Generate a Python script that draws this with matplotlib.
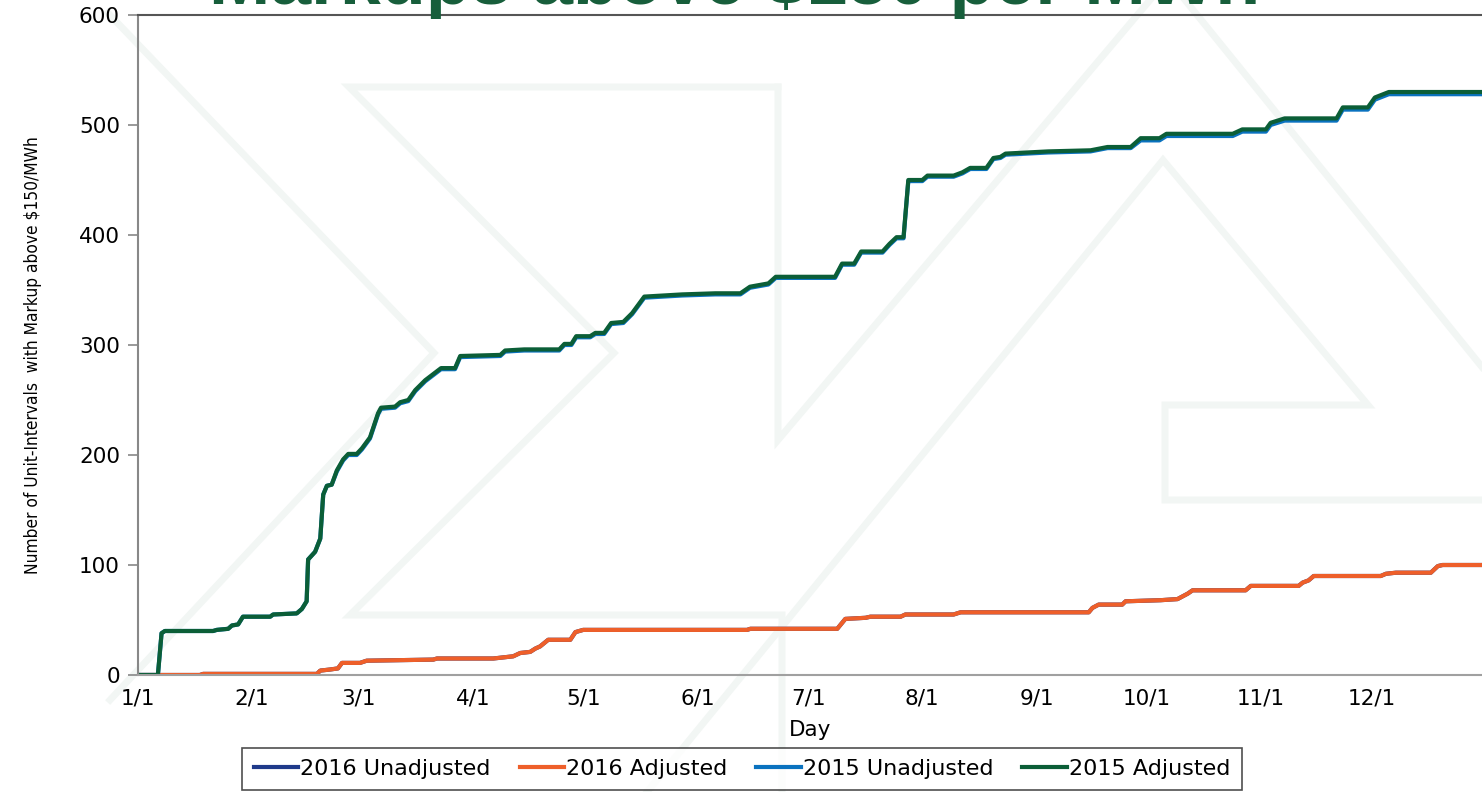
import matplotlib
matplotlib.use("Agg")
import matplotlib.pyplot as plt
from matplotlib.lines import Line2D
from matplotlib.transforms import Affine2D
from matplotlib import font_manager
from matplotlib.font_manager import FontProperties

# chart data (day of year, cumulative count)
green_days = [0, 5.4, 6.4, 7.3, 20.4, 21.4, 24.5, 25.5, 27.2, 28.5, 35.9, 36.7, 43.1, 44.5,
              45.8, 46.2, 48.1, 49.5, 50.3, 51.3, 52.6, 54.0, 55.7, 57.1, 59.4, 60.8, 63.0,
              65.2, 66.0, 69.8, 71.2, 73.4, 75.3, 78.0, 82.3, 86.1, 87.5, 98.4, 99.7, 104.9,
              114.4, 115.8, 117.7, 119.0, 122.8, 124.2, 126.6, 128.5, 131.8, 134.2, 137.5,
              147.8, 156.8, 163.6, 166.2, 171.2, 173.2, 189.3, 191.2, 194.5, 196.4, 202.2,
              204.1, 206.0, 207.9, 209.2, 213.0, 214.4, 221.5, 223.9, 226.0, 230.4, 232.3,
              234.2, 235.6, 247.2, 258.7, 263.3, 269.6, 272.3, 277.4, 279.3, 297.3, 299.9,
              306.3, 307.6, 311.4, 325.5, 327.2, 334.0, 335.9, 339.7, 365]
adj_2015 = [0, 0, 38, 40, 40, 41, 42, 45, 46, 53, 53, 55, 56, 60,
            67, 105, 112, 124, 164, 172, 173, 186, 196, 201, 201, 206, 216,
            238, 243, 244, 248, 250, 259, 268, 279, 279, 290, 291, 295, 296,
            296, 301, 301, 308, 308, 311, 311, 320, 321, 329, 344,
            346, 347, 347, 353, 356, 362, 362, 374, 374, 385, 385,
            392, 398, 398, 450, 450, 454, 454, 457, 461, 461, 470,
            471, 474, 476, 477, 480, 480, 488, 488, 492, 492, 496,
            496, 502, 506, 506, 516, 516, 525, 530, 530]
unadj_2015 = [0, 0, 38, 40, 40, 41, 42, 45, 46, 53, 53, 55, 56, 60,
              67, 105, 112, 124, 164, 172, 173, 185, 195, 200, 200, 205, 215,
              237, 242, 243, 247, 249, 258, 267, 278, 278, 289, 290, 294, 295,
              295, 300, 300, 307, 307, 310, 310, 319, 320, 328, 343,
              345, 346, 346, 352, 355, 361, 361, 373, 373, 384, 384,
              391, 397, 397, 449, 449, 453, 453, 456, 460, 460, 469,
              470, 473, 475, 476, 479, 479, 486, 486, 490, 490, 494,
              494, 500, 504, 504, 514, 514, 523, 528, 528]

orange_days = [0, 16.8, 17.7, 48.6, 49.5, 52.2, 54.3, 55.4, 60.3, 62.1, 80.2, 81.2, 96.5,
               101.9, 103.8, 106.5, 107.9, 109.2, 111.4, 117.4, 118.8, 120.9, 165.4, 166.3,
               189.9, 192.1, 197.6, 198.9, 207.1, 208.4, 221.5, 223.4, 258.2, 259.2, 260.9,
               267.3, 268.2, 277.7, 282.3, 285.1, 286.4, 300.8, 302.2, 315.2, 316.3, 317.9,
               319.3, 337.5, 338.9, 341.6, 351.1, 353.0, 354.3, 365]
adj_2016 = [0, 0, 1, 1, 4, 5, 6, 11, 11, 13, 14, 15, 15,
            17, 20, 21, 24, 26, 32, 32, 39, 41, 41, 42,
            42, 51, 52, 53, 53, 55, 55, 57, 57, 61, 64,
            64, 67, 68, 69, 74, 77, 77, 81, 81, 84, 86,
            90, 90, 92, 93, 93, 99, 100, 100]
unadj_2016 = [0, 0, 1, 1, 4, 5, 6, 11, 11, 13, 14, 15, 15,
              17, 20, 21, 24, 26, 32, 32, 39, 41, 41, 42,
              42, 51, 52, 53, 53, 55, 55, 57, 57, 61, 64,
              64, 67, 68, 69, 74, 77, 77, 81, 81, 84, 86,
              90, 90, 92, 93, 93, 99, 100, 100]

month_days = [0, 31, 60, 91, 121, 152, 182, 213, 244, 274, 305, 335]
month_labels = ["1/1", "2/1", "3/1", "4/1", "5/1", "6/1", "7/1", "8/1", "9/1", "10/1", "11/1", "12/1"]

W, H = 1482, 792
fig = plt.figure(figsize=(W / 100, H / 100), dpi=100)
fig.patch.set_facecolor("white")

# faint logo watermark behind the chart (pixel coords, y down)
px = Affine2D().scale(1 / W, -1 / H).translate(0, 1) + fig.transFigure
wm = [
    [(108, 13), (434, 353), (110, 700)],
    [(778, 87), (349, 87), (614, 353), (350, 615), (782, 615), (782, 792)],
    [(778, 87), (778, 440), (1150, 0)],
    [(1185, 0), (1482, 367)],
    [(647, 792), (1163, 160), (1368, 405), (1165, 405), (1165, 500), (1482, 500)],
]
for seg in wm:
    xs, ys = zip(*seg)
    fig.add_artist(Line2D(xs, ys, transform=px, color="#f2f6f4", lw=5, zorder=0,
                          solid_joinstyle="miter"))

ax = fig.add_axes([138 / W, 1 - 675 / H, (W - 138) / W, (675 - 15) / H])
ax.patch.set_alpha(0)

ax.plot(orange_days, unadj_2016, color="#1f3a8a", lw=3, label="2016 Unadjusted")
ax.plot(orange_days, adj_2016, color="#ee5f2a", lw=3, label="2016 Adjusted")
ax.plot(green_days, unadj_2015, color="#0a72bf", lw=3, label="2015 Unadjusted")
ax.plot(green_days, adj_2015, color="#0b5e37", lw=3, label="2015 Adjusted")

ax.set_xlim(0, 365)
ax.set_ylim(0, 600)
ax.set_yticks(range(0, 601, 100))
ax.set_xticks(month_days)
ax.set_xticklabels(month_labels)
ax.tick_params(axis="y", length=7, width=1.2, color="#888888", labelsize=15.5, pad=6)
ax.tick_params(axis="x", length=0, labelsize=15.5, pad=10)

ax.spines["right"].set_visible(False)
ax.spines["top"].set_color("#555555")
ax.spines["top"].set_linewidth(1.5)
ax.spines["left"].set_color("#888888")
ax.spines["left"].set_linewidth(1.5)
ax.spines["bottom"].set_color("#a0a0a0")
ax.spines["bottom"].set_linewidth(1.5)

ax.set_xlabel("Day", fontsize=15.5, labelpad=8)

# narrow font for the y label if one is installed
narrow = None
for f in font_manager.fontManager.ttflist:
    fn = f.fname.lower()
    if ("narrow" in fn or "condensed" in fn) and "bold" not in fn and "oblique" not in fn \
            and "italic" not in fn and "mono" not in fn and "serif" not in fn.replace("sans", ""):
        narrow = f.fname
        break
if narrow:
    ylab_fp = FontProperties(fname=narrow, size=15)
else:
    ylab_fp = FontProperties(family="DejaVu Sans", size=11.5)
ylab = fig.text(33 / W, 1 - 355 / H, "Number of Unit-Intervals  with Markup above $150/MWh",
                rotation=90, ha="center", va="center", fontproperties=ylab_fp)
# keep the label at the reference length (about 440 px)
fig.canvas.draw()
ext = ylab.get_window_extent()
ylab_fp.set_size(ylab_fp.get_size() * 440 / ext.height)
ylab.set_fontproperties(ylab_fp)

# title of the slide, mostly cropped off the top
fig.text(735 / W, 1 - 4 / H, "Markups above $150 per MWh", ha="center", va="baseline",
         fontsize=53, fontweight="bold", color="#175e3b", family="Liberation Sans", zorder=10)

leg = ax.legend(loc="upper center", bbox_to_anchor=(742 / W, 1 - 748 / H),
                bbox_transform=fig.transFigure, ncol=4, fontsize=16, frameon=True,
                fancybox=False, edgecolor="#222222", handlelength=2.0, handletextpad=0.1,
                columnspacing=1.3, borderaxespad=0, borderpad=0.5)
leg.get_frame().set_linewidth(1.2)

fig.savefig("out.png", dpi=100)
